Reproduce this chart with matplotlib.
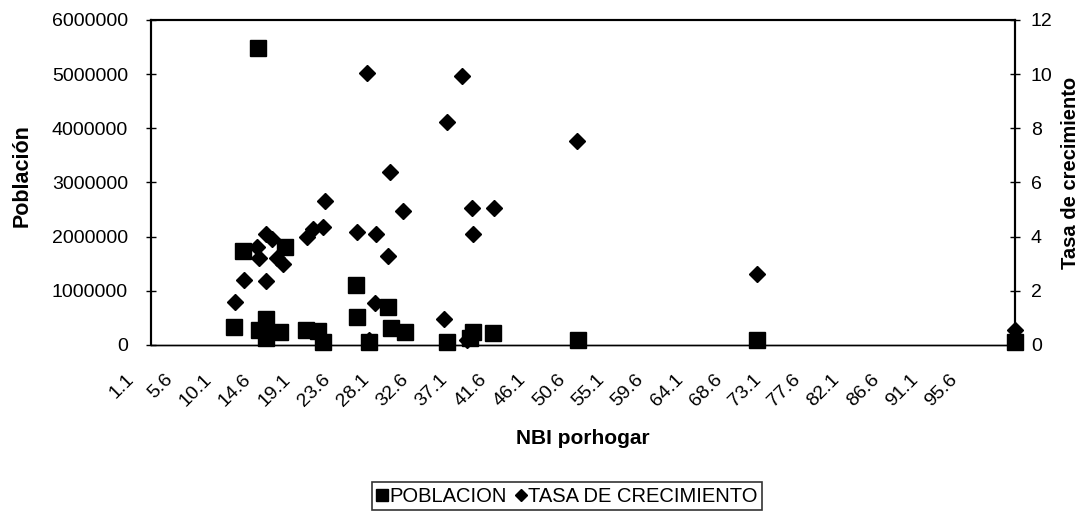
import matplotlib
matplotlib.use("Agg")
import matplotlib.pyplot as plt
from matplotlib.ticker import FuncFormatter
from matplotlib.transforms import ScaledTranslation

plt.rcParams['font.family'] = ['Liberation Sans', 'DejaVu Sans']

# NBI por hogar (x) and population (left axis)
nbi_pob = [13.4, 11.7, 16.5, 10.6, 14.3, 13.5, 15.9, 14.3, 18.9, 20.2, 20.8,
           24.6, 24.7, 26.1, 28.3, 28.6, 30.2, 35.1, 37.7, 38.0, 40.3, 50.1,
           70.6, 100.2]
poblacion = [5480000, 1735000, 1810000, 330000, 480000, 280000, 240000, 130000,
             270000, 250000, 50000, 1100000, 520000, 50000, 700000, 310000,
             240000, 50000, 130000, 240000, 220000, 100000, 90000, 50000]

# NBI por hogar (x) and growth rate (right axis)
nbi_tasa = [25.9, 36.8, 35.1, 28.5, 21.1, 30.0, 20.8, 24.7, 26.9, 19.7, 19.0,
            14.3, 15.0, 13.2, 13.5, 15.6, 16.2, 28.3, 11.8, 14.3, 10.7, 26.8,
            34.7, 50.0, 37.9, 40.4, 38.0, 70.6, 100.2, 14.3, 26.1, 37.3]
tasa = [10.05, 9.95, 8.25, 6.4, 5.3, 4.95, 4.36, 4.18, 4.1, 4.3, 4.0,
        4.1, 3.9, 3.6, 3.2, 3.2, 3.0, 3.3, 2.4, 2.35, 1.6, 1.55,
        0.95, 7.55, 5.05, 5.05, 4.1, 2.62, 0.55, 0.5, 0.2, 0.2]

x_ticks = [1.1, 5.6, 10.1, 14.6, 19.1, 23.6, 28.1, 32.6, 37.1, 41.6, 46.1,
           50.6, 55.1, 59.6, 64.1, 68.6, 73.1, 77.6, 82.1, 86.6, 91.1, 95.6]

fig = plt.figure(figsize=(10.85, 5.19), dpi=100)
ax = fig.add_axes([0.1392, 0.3353, 0.7963, 0.6262])
ax2 = ax.twinx()

ax.plot(nbi_pob, poblacion, linestyle='none', marker='s', markersize=11,
        color='black', label='POBLACION', zorder=3, clip_on=False)
ax2.plot(nbi_tasa, tasa, linestyle='none', marker='D', markersize=8,
         color='black', label='TASA DE CRECIMIENTO', zorder=3, clip_on=False)

ax.set_xlim(1.1, 100.2)
ax.set_ylim(0, 6000000)
ax2.set_ylim(0, 12)
ax.set_yticks(range(0, 6000001, 1000000))
ax2.set_yticks(range(0, 13, 2))
ax.yaxis.set_major_formatter(FuncFormatter(lambda v, p: '%d' % v))

ax.set_xticks(x_ticks)
ax.set_xticklabels([str(t) for t in x_ticks], rotation=45, ha='right',
                   va='center', rotation_mode='anchor')
ax.tick_params(axis='x', length=0, pad=23, labelsize=14)
# excel puts the rotated labels a bit left of their category
shift = ScaledTranslation(-0.2, 0, fig.dpi_scale_trans)
for lab in ax.get_xticklabels():
    lab.set_transform(lab.get_transform() + shift)

ax.tick_params(axis='y', direction='inout', length=7, width=1, labelsize=14, pad=13)
ax2.tick_params(axis='y', direction='inout', length=7, width=1, labelsize=14, pad=8)

for a in (ax, ax2):
    for s in a.spines.values():
        s.set_linewidth(1.5)
        s.set_color('black')
    a.spines['bottom'].set_linewidth(1.0)

ax.set_xlabel('NBI porhogar', fontsize=15, fontweight='bold', labelpad=14)
ax.set_ylabel('Población', fontsize=15.5, fontweight='bold', labelpad=14)
ax2.set_ylabel('Tasa de crecimiento', fontsize=14.5, fontweight='bold', labelpad=6)
ax.yaxis.label.set_y(0.52)
ax2.yaxis.label.set_y(0.53)

h1, l1 = ax.get_legend_handles_labels()
h2, l2 = ax2.get_legend_handles_labels()
leg = fig.legend(h1 + h2, l1 + l2, loc='center', bbox_to_anchor=(567 / 1085, 0.044),
                 ncol=2, fontsize=14.5, frameon=True, fancybox=False,
                 handlelength=0.5, handletextpad=0.12, columnspacing=0.45,
                 borderpad=0.22, borderaxespad=0, markerscale=0.75)
leg.get_frame().set_edgecolor('black')
leg.get_frame().set_linewidth(1.2)

fig.savefig('out.png', dpi=100)
